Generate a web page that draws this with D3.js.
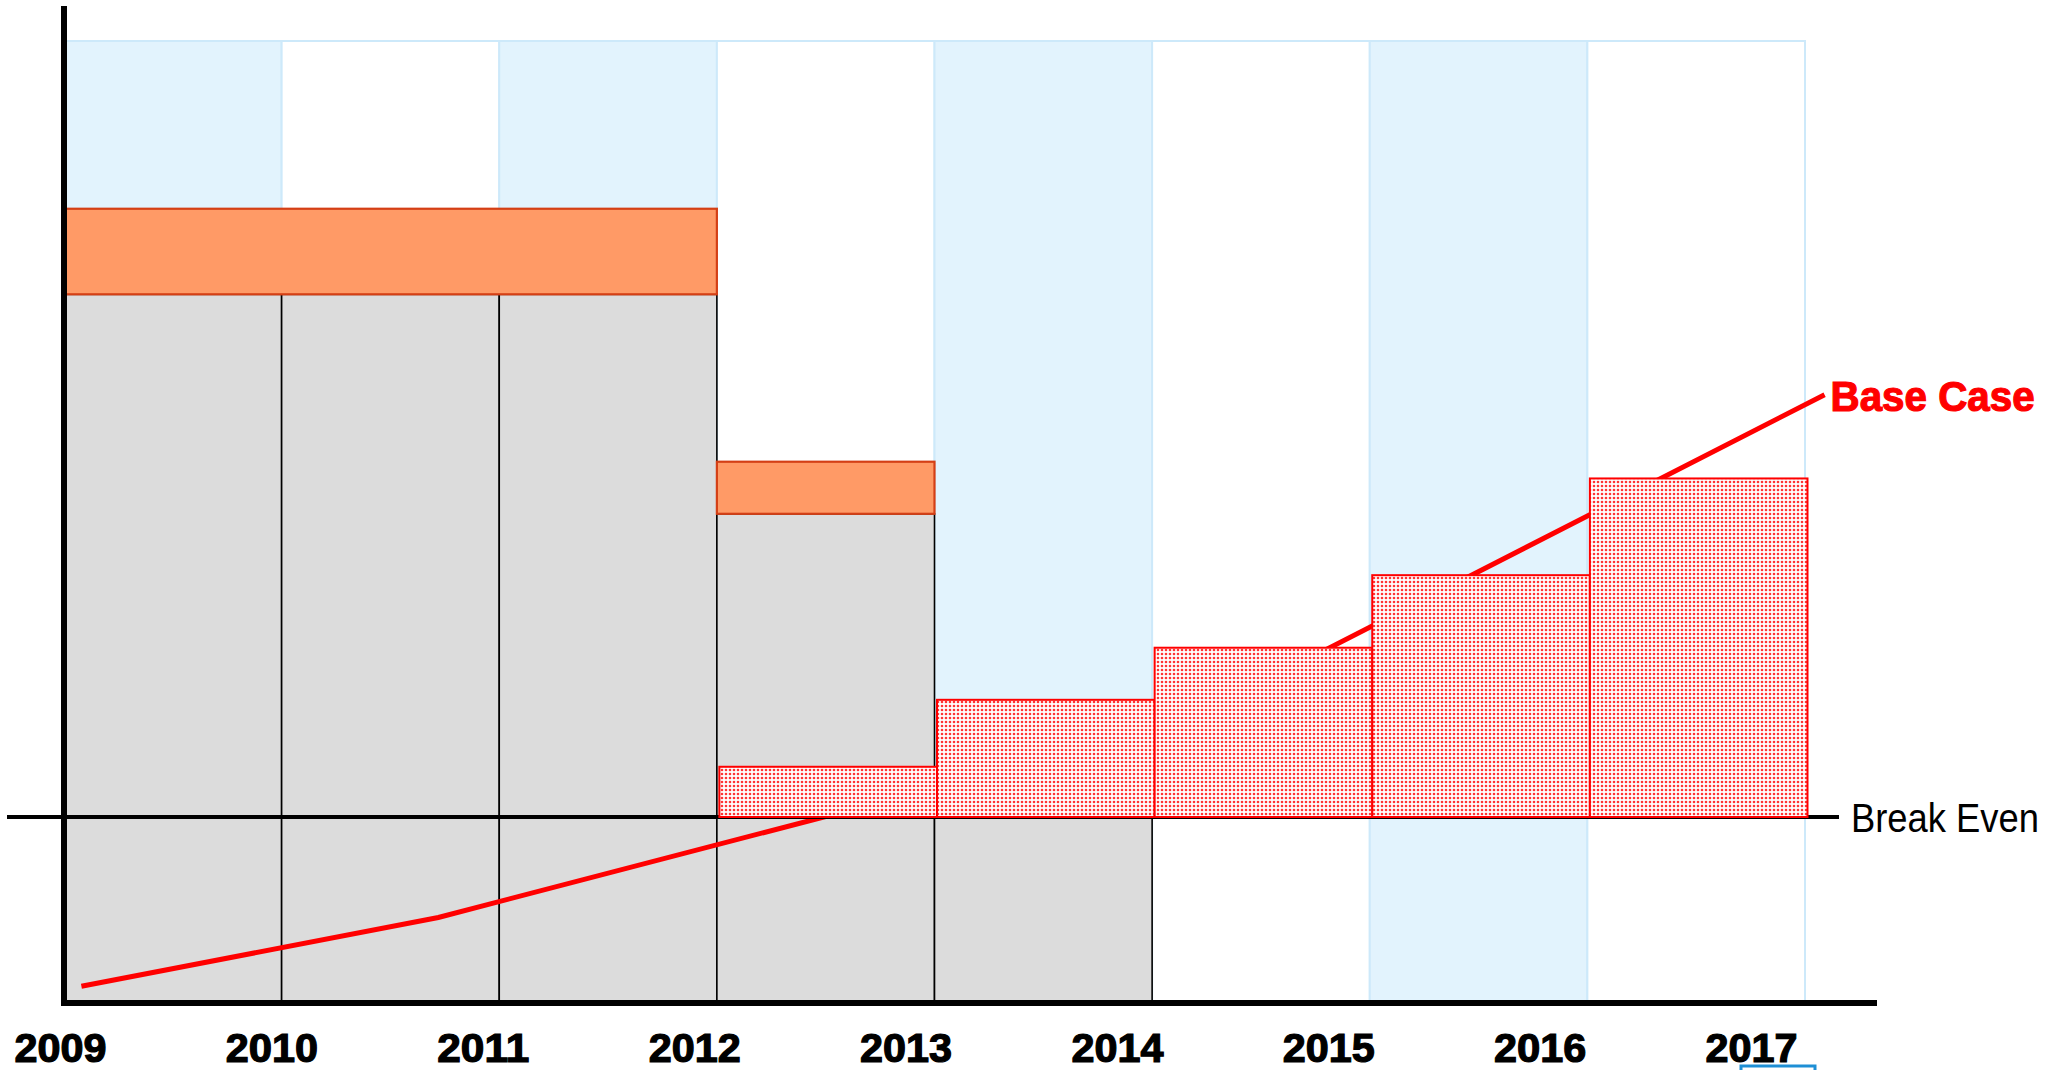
<!DOCTYPE html>
<html>
<head>
<meta charset="utf-8">
<script src="https://cdn.jsdelivr.net/npm/d3@7"></script>
<style>
  body { margin: 0; background: #fff; }
  svg { display: block; }
</style>
</head>
<body>
<div id="wrapper"></div>
<script>
// Data
const bandYears = [2009, 2010, 2011, 2012, 2013, 2014, 2015, 2016];
const bandShaded = [true, false, true, false, true, false, true, false];
const tickYears = [2009, 2010, 2011, 2012, 2013, 2014, 2015, 2016, 2017];

const costYears = [2009, 2010, 2011, 2012, 2013];
const costTop = [28.1, 28.1, 28.1, 16.3, 0];
const contingency = [4.6, 4.6, 4.6, 2.8, 0];

const returnYears = [2012, 2013, 2014, 2015, 2016];
const returnValues = [2.7, 6.3, 9.1, 13.0, 18.2];

const baseCaseX = [2009.08, 2010.72, 2014.13, 2017.09];
const baseCaseY = [-9.1, -5.4, 5.0, 22.7];

const floorValue = -10;
const breakEven = 0;

function drawChart() {
  // Dimensions
  const dimensions = {
    width: 2064,
    height: 1070,
    plotLeft: 64,
    plotRight: 1805,
    plotTop: 6,
    plotBottom: 1003,
    bandTop: 41,
  };

  const svg = d3
    .select("#wrapper")
    .append("svg")
    .attr("width", dimensions.width)
    .attr("height", dimensions.height);

  // Scales
  const xScale = d3
    .scaleLinear()
    .domain([2009, 2017])
    .range([dimensions.plotLeft, dimensions.plotRight]);

  const yScale = d3
    .scaleLinear()
    .domain([floorValue, 43.6])
    .range([dimensions.plotBottom, dimensions.plotTop]);

  // labels sit on their own, slightly tighter spacing
  const labelScale = d3.scaleLinear().domain([2009, 2017]).range([60, 1751]);

  // dotted fill for the return bars
  const pattern = svg
    .append("defs")
    .append("pattern")
    .attr("id", "dots")
    .attr("patternUnits", "userSpaceOnUse")
    .attr("width", 4)
    .attr("height", 4);
  pattern.append("rect").attr("width", 4).attr("height", 4).attr("fill", "#fff");
  pattern
    .append("circle")
    .attr("cx", 2)
    .attr("cy", 2)
    .attr("r", 1.3)
    .attr("fill", "#ff3535");

  // Background bands
  svg
    .append("g")
    .selectAll("rect")
    .data(bandYears)
    .enter()
    .append("rect")
    .attr("x", (d) => xScale(d))
    .attr("y", dimensions.bandTop)
    .attr("width", (d) => xScale(d + 1) - xScale(d))
    .attr("height", dimensions.plotBottom - dimensions.bandTop)
    .attr("fill", (d, i) => (bandShaded[i] ? "#e2f3fd" : "#fff"))
    .attr("stroke", "#cde9fa")
    .attr("stroke-width", 2);

  // Cost bars (grey)
  svg
    .append("g")
    .selectAll("rect")
    .data(costYears)
    .enter()
    .append("rect")
    .attr("x", (d) => xScale(d))
    .attr("y", (d, i) => yScale(costTop[i]))
    .attr("width", (d) => xScale(d + 1) - xScale(d))
    .attr("height", (d, i) => yScale(floorValue) - yScale(costTop[i]))
    .attr("fill", "#dcdcdc")
    .attr("stroke", "#000")
    .attr("stroke-width", 1.6);

  // Contingency (orange), neighbouring equal years merged into one block
  const orangeSpans = [];
  costYears.forEach((yr, i) => {
    if (!contingency[i]) return;
    const low = costTop[i];
    const high = costTop[i] + contingency[i];
    const last = orangeSpans[orangeSpans.length - 1];
    if (last && last.end === yr && last.low === low && last.high === high) {
      last.end = yr + 1;
    } else {
      orangeSpans.push({ start: yr, end: yr + 1, low: low, high: high });
    }
  });

  svg
    .append("g")
    .selectAll("rect")
    .data(orangeSpans)
    .enter()
    .append("rect")
    .attr("x", (d) => xScale(d.start))
    .attr("y", (d) => yScale(d.high))
    .attr("width", (d) => xScale(d.end) - xScale(d.start))
    .attr("height", (d) => yScale(d.low) - yScale(d.high))
    .attr("fill", "#ff9a66")
    .attr("stroke", "#d43f15")
    .attr("stroke-width", 2.2);

  // Base case line
  const lineGenerator = d3
    .line()
    .x((d) => xScale(d[0]))
    .y((d) => yScale(d[1]));

  svg
    .append("path")
    .datum(d3.zip(baseCaseX, baseCaseY))
    .attr("d", lineGenerator)
    .attr("fill", "none")
    .attr("stroke", "#ff0000")
    .attr("stroke-width", 5);

  const lastPoint = [baseCaseX[baseCaseX.length - 1], baseCaseY[baseCaseY.length - 1]];
  svg
    .append("text")
    .attr("x", xScale(lastPoint[0]) + 6)
    .attr("y", yScale(lastPoint[1]) + 16)
    .text("Base Case")
    .attr("fill", "#ff0000")
    .attr("stroke", "#ff0000")
    .attr("stroke-width", 1.2)
    .attr("textLength", 204)
    .attr("lengthAdjust", "spacingAndGlyphs")
    .style("font-size", "42px")
    .style("font-weight", "bold")
    .style("font-family", "'Liberation Sans', Arial, sans-serif");

  // Break even line
  svg
    .append("line")
    .attr("x1", 7)
    .attr("x2", 1839)
    .attr("y1", yScale(breakEven))
    .attr("y2", yScale(breakEven))
    .attr("stroke", "#000")
    .attr("stroke-width", 4);

  svg
    .append("text")
    .attr("x", 1851)
    .attr("y", yScale(breakEven) + 15)
    .text("Break Even")
    .attr("textLength", 188)
    .attr("lengthAdjust", "spacingAndGlyphs")
    .style("font-size", "40px")
    .style("font-family", "'Liberation Sans', Arial, sans-serif");

  // Return bars (dotted red)
  const barShift = 2.5;
  svg
    .append("g")
    .selectAll("rect")
    .data(returnYears)
    .enter()
    .append("rect")
    .attr("x", (d) => xScale(d) + barShift)
    .attr("y", (d, i) => yScale(returnValues[i]))
    .attr("width", (d) => xScale(d + 1) - xScale(d))
    .attr("height", (d, i) => yScale(breakEven) - yScale(returnValues[i]))
    .attr("fill", "url(#dots)")
    .attr("stroke", "#ff0000")
    .attr("stroke-width", 2);

  // Axes
  svg
    .append("line")
    .attr("x1", dimensions.plotLeft)
    .attr("x2", dimensions.plotLeft)
    .attr("y1", dimensions.plotTop)
    .attr("y2", dimensions.plotBottom + 3)
    .attr("stroke", "#000")
    .attr("stroke-width", 6);

  svg
    .append("line")
    .attr("x1", dimensions.plotLeft - 3)
    .attr("x2", 1877)
    .attr("y1", dimensions.plotBottom)
    .attr("y2", dimensions.plotBottom)
    .attr("stroke", "#000")
    .attr("stroke-width", 6);

  const xAxisGenerator = d3
    .axisBottom(labelScale)
    .tickValues(tickYears)
    .tickFormat(d3.format("d"))
    .tickSize(0);

  const xAxis = svg
    .append("g")
    .attr("transform", "translate(0, 1062)")
    .call(xAxisGenerator)
    .attr("font-family", "'Liberation Sans', Arial, sans-serif")
    .attr("font-size", 40)
    .attr("font-weight", "bold");

  xAxis.select(".domain").remove();
  xAxis
    .selectAll("text")
    .attr("y", 0)
    .attr("dy", null)
    .attr("fill", "#000")
    .attr("stroke", "#000")
    .attr("stroke-width", 1.2)
    .attr("textLength", 92)
    .attr("lengthAdjust", "spacingAndGlyphs");

  // selection box peeking in under the last label
  svg
    .append("rect")
    .attr("x", labelScale(2017) - 10)
    .attr("y", 1066)
    .attr("width", 74)
    .attr("height", 20)
    .attr("fill", "none")
    .attr("stroke", "#1e8fd5")
    .attr("stroke-width", 3);
}

drawChart();
</script>
</body>
</html>
